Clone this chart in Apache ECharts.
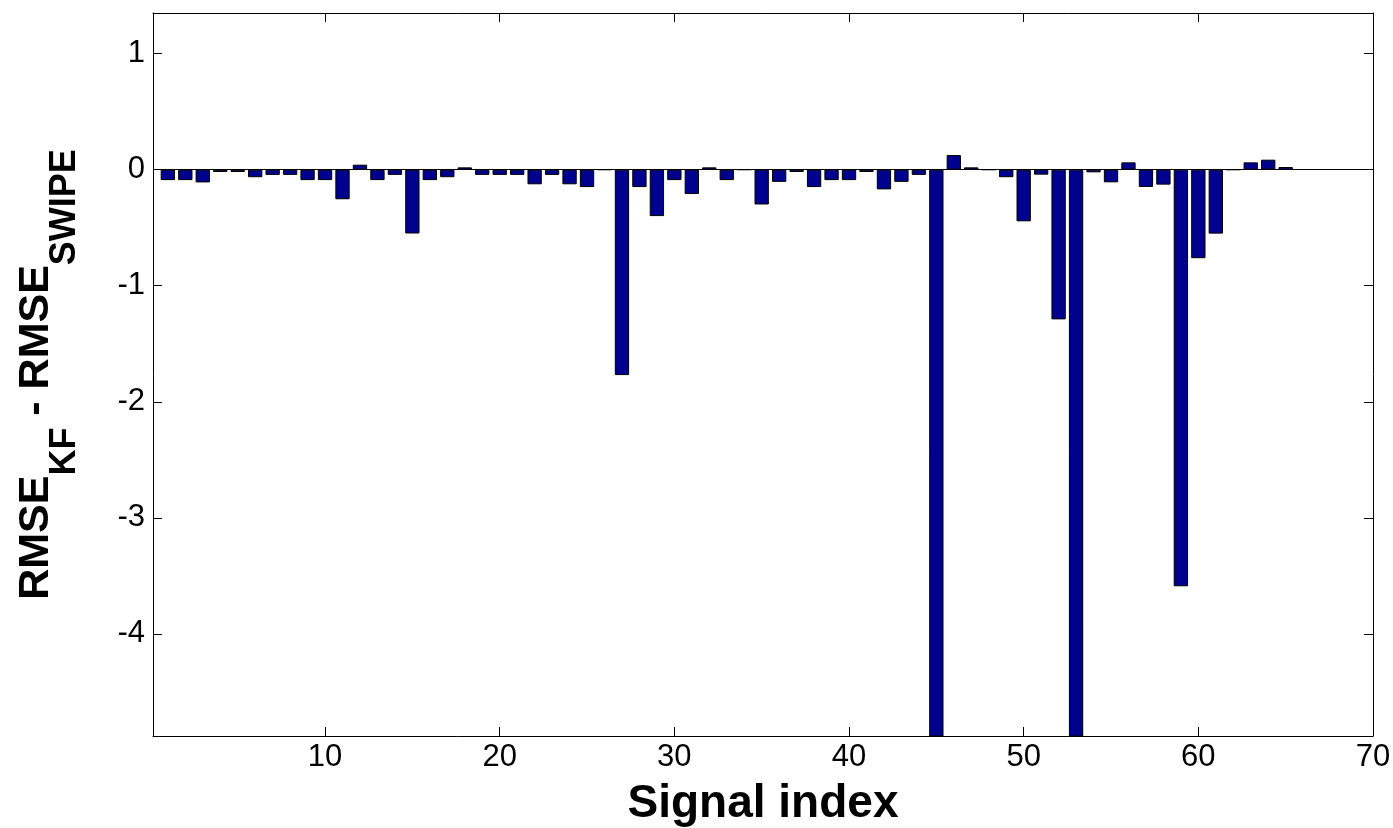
<!DOCTYPE html>
<html>
<head>
<meta charset="utf-8">
<title>RMSE difference per signal</title>
<script src="https://cdn.jsdelivr.net/npm/echarts@6/dist/echarts.min.js"></script>
<style>
  html, body { margin: 0; padding: 0; background: #fff; }
  #charts { width: 1393px; height: 828px; }
</style>
</head>
<body>
<div id="charts"></div>
<script>
// signal index 1..65
var signalIdx = [];
for (var i = 1; i <= 65; i++) signalIdx.push(i);

// RMSE_KF - RMSE_SWIPE (45 and 53 run past the bottom)
var rmseDiff = [
    -0.09, -0.09, -0.11, -0.02, -0.02, -0.065, -0.045, -0.045, -0.09, -0.09,
    -0.255, 0.043, -0.09, -0.045, -0.55, -0.09, -0.065, 0.02, -0.045, -0.045,
    -0.045, -0.126, -0.045, -0.126, -0.15, 0, -1.77, -0.15, -0.40, -0.09,
    -0.21, 0.02, -0.09, 0, -0.30, -0.105, -0.02, -0.15, -0.09, -0.09,
    -0.02, -0.17, -0.105, -0.045, -5.2, 0.126, 0.02, 0, -0.065, -0.445,
    -0.043, -1.29, -5.2, -0.023, -0.109, 0.063, -0.149, -0.129, -3.59, -0.763,
    -0.551, 0, 0.063, 0.086, 0.023
];

var xTicks = [10, 20, 30, 40, 50, 60, 70];
var yTicks = [-4, -3, -2, -1, 0, 1];

var myChart = echarts.init(document.getElementById('charts'));

var fontFam = '"Liberation Sans", Arial, Helvetica, sans-serif';
var black = '#000';

var barData = signalIdx.map(function (x, k) { return [x, rmseDiff[k]]; });

function boxAxis(pos, isX, withLabels) {
    var ticks = isX ? xTicks : yTicks;
    var ax = {
        type: 'value',
        position: pos,
        min: isX ? 0.15 : -4.88,
        max: isX ? 70 : 1.35,
        axisLine: { show: true, onZero: false, lineStyle: { color: black, width: 1 } },
        axisTick: { show: true, inside: true, length: 9, customValues: ticks, lineStyle: { color: black } },
        axisLabel: {
            show: withLabels,
            customValues: ticks,
            color: black,
            fontSize: 31,
            fontFamily: fontFam,
            margin: isX ? 6 : 8
        },
        splitLine: { show: false }
    };
    return ax;
}

var xMain = boxAxis('bottom', true, true);
xMain.name = 'Signal index';
xMain.nameLocation = 'middle';
xMain.nameGap = 45;
xMain.nameTextStyle = { color: black, fontSize: 46, fontWeight: 'bold', fontFamily: fontFam };

var yMain = boxAxis('left', false, true);
yMain.name = '{b|RMSE}{s|KF}{b| - RMSE}{s|SWIPE}';
yMain.nameLocation = 'middle';
yMain.nameRotate = 90;
yMain.nameGap = 95;
yMain.nameTextStyle = {
    color: black,
    rich: {
        b: { fontSize: 43, fontWeight: 'bold', fontFamily: fontFam, color: black, lineHeight: 43, verticalAlign: 'top' },
        s: { fontSize: 36, fontWeight: 'bold', fontFamily: fontFam, color: black, lineHeight: 36, verticalAlign: 'top', padding: [32, 0, 0, 0] }
    }
};

var option = {
    animation: false,
    backgroundColor: '#fff',
    grid: { left: 153, top: 13, right: 20, bottom: 92, containLabel: false, outerBoundsMode: 'none' },
    xAxis: [xMain, boxAxis('top', true, false)],
    yAxis: [yMain, boxAxis('right', false, false)],
    series: [{
        type: 'bar',
        xAxisIndex: 0,
        yAxisIndex: 0,
        data: barData,
        barWidth: '82%',
        clip: true,
        itemStyle: { color: '#00008f', borderColor: black, borderWidth: 1 },
        markLine: {
            silent: true,
            symbol: 'none',
            label: { show: false },
            lineStyle: { color: black, width: 1, type: 'solid' },
            data: [{ yAxis: 0 }]
        }
    }]
};

myChart.setOption(option);
</script>
</body>
</html>
